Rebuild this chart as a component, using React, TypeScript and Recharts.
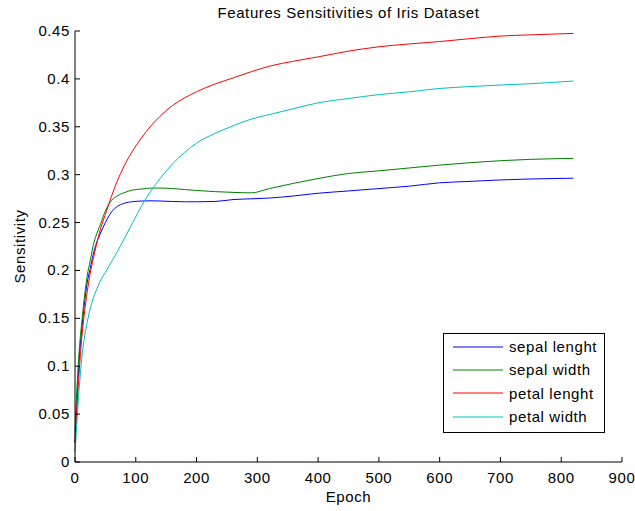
import React from 'react';
import { LineChart, Line, XAxis, YAxis, Legend } from 'recharts';

// epoch samples
const epochs = [0, 3, 6, 9, 12, 16, 20, 25, 30, 35, 40, 50, 60, 70, 80, 95, 110, 125, 140, 160, 180, 200, 230, 260, 290, 320, 360, 400, 450, 500, 550, 600, 650, 700, 750, 820];

const sepalLenght = [0.02, 0.06, 0.098, 0.124, 0.144, 0.168, 0.187, 0.202, 0.217, 0.228, 0.236, 0.25, 0.261, 0.267, 0.27, 0.2718, 0.2725, 0.2727, 0.2725, 0.272, 0.2717, 0.2717, 0.272, 0.274, 0.2748, 0.2756, 0.2778, 0.2806, 0.283, 0.2855, 0.288, 0.2915, 0.293, 0.2945, 0.2955, 0.2963];
const sepalWidth = [0.03, 0.075, 0.108, 0.132, 0.151, 0.175, 0.194, 0.21, 0.226, 0.237, 0.245, 0.262, 0.273, 0.278, 0.281, 0.284, 0.285, 0.286, 0.286, 0.2855, 0.2845, 0.2835, 0.2823, 0.2815, 0.281, 0.2855, 0.291, 0.296, 0.3012, 0.304, 0.307, 0.31, 0.3125, 0.3146, 0.316, 0.317];
const petalLenght = [0.02, 0.055, 0.085, 0.113, 0.135, 0.158, 0.177, 0.197, 0.212, 0.226, 0.239, 0.2585, 0.2775, 0.294, 0.308, 0.325, 0.339, 0.351, 0.361, 0.372, 0.38, 0.3866, 0.3945, 0.401, 0.4075, 0.4133, 0.4185, 0.423, 0.429, 0.4335, 0.4365, 0.439, 0.442, 0.4447, 0.446, 0.4475];
const petalWidth = [0.01, 0.04, 0.07, 0.093, 0.113, 0.132, 0.146, 0.16, 0.171, 0.179, 0.187, 0.198, 0.209, 0.22, 0.232, 0.25, 0.268, 0.283, 0.296, 0.311, 0.323, 0.333, 0.343, 0.351, 0.358, 0.3628, 0.369, 0.375, 0.3795, 0.3836, 0.3865, 0.39, 0.392, 0.3936, 0.395, 0.3978];

const xTicks = [0, 100, 200, 300, 400, 500, 600, 700, 800, 900];
const yTicks = [0, 0.05, 0.1, 0.15, 0.2, 0.25, 0.3, 0.35, 0.4, 0.45];

const series = [
  { key: 'sepalLenght', name: 'sepal lenght', color: '#0000ff' },
  { key: 'sepalWidth', name: 'sepal width', color: '#008000' },
  { key: 'petalLenght', name: 'petal lenght', color: '#ff0000' },
  { key: 'petalWidth', name: 'petal width', color: '#00bfbf' },
];

const data = epochs.map((epoch, i) => ({
  epoch,
  sepalLenght: sepalLenght[i],
  sepalWidth: sepalWidth[i],
  petalLenght: petalLenght[i],
  petalWidth: petalWidth[i],
}));

const FONT = '"Liberation Sans", Arial, sans-serif';
const textStyle = { fontFamily: FONT, fontSize: 15, letterSpacing: 0.6, fill: '#000' };
const TICK = 5;

const BottomTick = (props: any) => {
  const { x, y, payload } = props;
  return (
    <g>
      <line x1={x} y1={y} x2={x} y2={y - TICK} stroke="#000" />
      <text x={x} y={y + 21} textAnchor="middle" style={textStyle}>{payload.value}</text>
    </g>
  );
};

const TopTick = (props: any) => {
  const { x, y } = props;
  return <line x1={x} y1={y} x2={x} y2={y + TICK} stroke="#000" />;
};

const LeftTick = (props: any) => {
  const { x, y, payload } = props;
  return (
    <g>
      <line x1={x} y1={y} x2={x + TICK} y2={y} stroke="#000" />
      <text x={x - 5} y={y + 5} textAnchor="end" style={textStyle}>{payload.value}</text>
    </g>
  );
};

const RightTick = (props: any) => {
  const { x, y } = props;
  return <line x1={x} y1={y} x2={x - TICK} y2={y} stroke="#000" />;
};

const LegendBox = (props: any) => {
  const items = [...(props.payload || [])].sort(
    (a: any, b: any) =>
      series.findIndex((s) => s.name === a.value) - series.findIndex((s) => s.name === b.value)
  );
  return (
    <div style={{ padding: '1px 0 0 9px' }}>
      {items.map((entry: any) => (
        <div key={entry.value} style={{ display: 'flex', alignItems: 'center', height: 23.3, whiteSpace: 'nowrap' }}>
          <svg width={50} height={10} style={{ marginRight: 6, flexShrink: 0 }}>
            <line x1={0} y1={5} x2={50} y2={5} stroke={entry.color} />
          </svg>
          <span style={{ fontFamily: FONT, fontSize: 15, letterSpacing: 0.6, color: '#000' }}>{entry.value}</span>
        </div>
      ))}
    </div>
  );
};

export default function App() {
  return (
    <div style={{ position: 'absolute', left: 0, top: 0, width: 635, height: 511, background: '#fff' }}>
      <div
        style={{
          position: 'absolute', left: 75, width: 547, top: 4, textAlign: 'center',
          fontFamily: FONT, fontSize: 15, letterSpacing: 0.6, color: '#000',
        }}
      >
        Features Sensitivities of Iris Dataset
      </div>
      <LineChart width={635} height={511} data={data} margin={{ top: 31, right: 13, bottom: 0, left: 0 }}>
        <XAxis
          dataKey="epoch"
          type="number"
          domain={[0, 900]}
          ticks={xTicks}
          height={49}
          tickSize={0}
          tickMargin={0}
          tickLine={false}
          axisLine={{ stroke: '#000' }}
          tick={<BottomTick />}
          label={({ viewBox }: any) => (
            <text x={viewBox.x + viewBox.width / 2} y={502} textAnchor="middle" style={textStyle}>Epoch</text>
          )}
        />
        <XAxis
          xAxisId="top"
          orientation="top"
          dataKey="epoch"
          type="number"
          domain={[0, 900]}
          ticks={xTicks}
          height={0}
          tickSize={0}
          tickMargin={0}
          tickLine={false}
          axisLine={{ stroke: '#000' }}
          tick={<TopTick />}
        />
        <YAxis
          type="number"
          domain={[0, 0.45]}
          ticks={yTicks}
          width={75}
          tickSize={0}
          tickMargin={0}
          tickLine={false}
          axisLine={{ stroke: '#000' }}
          tick={<LeftTick />}
          label={({ viewBox }: any) => {
            const cx = 25;
            const cy = viewBox.y + viewBox.height / 2;
            return (
              <text x={cx} y={cy} transform={`rotate(-90 ${cx} ${cy})`} textAnchor="middle" style={textStyle}>Sensitivity</text>
            );
          }}
        />
        <YAxis
          yAxisId="right"
          orientation="right"
          type="number"
          domain={[0, 0.45]}
          ticks={yTicks}
          width={0}
          tickSize={0}
          tickMargin={0}
          tickLine={false}
          axisLine={{ stroke: '#000' }}
          tick={<RightTick />}
        />
        <Legend
          layout="vertical"
          align="center"
          verticalAlign="middle"
          content={<LegendBox />}
          wrapperStyle={{
            position: 'absolute', left: 443, top: 333, width: 162, height: 100,
            border: '1px solid #000', background: '#fff', boxSizing: 'border-box',
          }}
        />
        {series.map((s) => (
          <Line
            key={s.key}
            type="monotone"
            dataKey={s.key}
            name={s.name}
            stroke={s.color}
            strokeWidth={1}
            dot={false}
            activeDot={false}
            isAnimationActive={false}
          />
        ))}
      </LineChart>
    </div>
  );
}
